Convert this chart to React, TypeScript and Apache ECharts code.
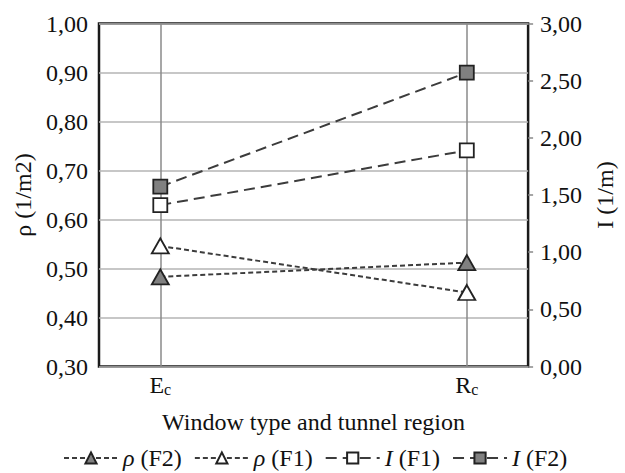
import React, { useEffect, useRef } from "react";
import * as echarts from "echarts";

const categories = ["E_c", "R_c"];
const categoryPositions = [0, 1];
const rhoF2 = [0.483, 0.512];
const rhoF1 = [0.546, 0.451];
const iF1 = [1.412, 1.89];
const iF2 = [1.573, 2.57];
const seriesNames = ["ρ (F2)", "ρ (F1)", "I (F1)", "I (F2)"];

const FONT = "'Liberation Serif', 'Times New Roman', Times, serif";
const FS = 24;
const fmt = (v: number) => v.toFixed(2).replace(".", ",");

export default function App() {
  const ref = useRef<HTMLDivElement>(null);
  useEffect(() => {
    if (!ref.current) return;
    const chart = echarts.init(ref.current, null, { renderer: "svg" });
    const pts = (arr: number[]) => arr.map((v, i) => [categoryPositions[i], v]);
    const lineColor = "#3c3c3c";
    const border = "#222";
    const fillGray = "#808080";
    const shortDash = { color: lineColor, width: 2, type: [5, 3] as any };
    const longDash = { color: lineColor, width: 2, type: [11, 6] as any };
    chart.setOption({
      animation: false,
      textStyle: { fontFamily: FONT },
      grid: {
        left: 99,
        right: 88,
        top: 23.5,
        bottom: 106.5,
        show: true,
        borderColor: "#1a1a1a",
        borderWidth: 2.5,
        backgroundColor: "transparent",
      },
      legend: {
        left: 58,
        top: 441,
        itemWidth: 54,
        itemHeight: 14,
        itemGap: 12,
        textStyle: {
          fontFamily: FONT,
          fontSize: FS,
          lineHeight: 24,
          color: "#111",
          rich: { it: { fontStyle: "italic", fontFamily: FONT, fontSize: FS, lineHeight: 24, color: "#111" } },
        },
        formatter: (name: string) => {
          const parts = name.split(" ");
          return "{it|" + parts[0] + "} " + parts.slice(1).join(" ");
        },
        data: seriesNames,
      },
      xAxis: {
        type: "value",
        min: -0.2,
        max: 1.2,
        name: "Window type and tunnel region",
        nameLocation: "middle",
        nameGap: 43,
        nameTextStyle: { fontFamily: FONT, fontSize: FS, color: "#111" },
        axisLine: { show: false },
        axisTick: { show: false },
        splitLine: { show: false },
        axisLabel: {
          customValues: categoryPositions,
          margin: 5,
          formatter: (v: number) => {
            const idx = categoryPositions.indexOf(Math.round(v));
            if (idx < 0) return "";
            const [m, s] = categories[idx].split("_");
            return "{m|" + m + "}{s|" + s + "}";
          },
          rich: {
            m: { fontFamily: FONT, fontSize: FS, color: "#111" },
            s: { fontFamily: FONT, fontSize: 16, color: "#111", padding: [10, 0, 0, 0] },
          },
        },
      },
      yAxis: [
        {
          type: "value",
          min: 0.3,
          max: 1.0,
          interval: 0.1,
          name: "ρ (1/m2)",
          nameLocation: "middle",
          nameGap: 62,
          nameTextStyle: { fontFamily: FONT, fontSize: FS, color: "#111" },
          axisLine: { show: false },
          axisTick: { show: false },
          axisLabel: { formatter: fmt, fontFamily: FONT, fontSize: FS, color: "#111", margin: 11 },
          splitLine: { show: true, lineStyle: { color: "#b5b5b5", width: 1.5 } },
        },
        {
          type: "value",
          min: 0,
          max: 3,
          interval: 0.5,
          position: "right",
          name: "I (1/m)",
          nameLocation: "middle",
          nameGap: 63,
          nameTextStyle: { fontFamily: FONT, fontSize: FS, color: "#111" },
          axisLine: { show: false },
          axisTick: { show: true, length: 5, inside: false, lineStyle: { color: "#888", width: 1.5 } },
          axisLabel: { formatter: fmt, fontFamily: FONT, fontSize: FS, color: "#111", margin: 12 },
          splitLine: { show: false },
        },
      ],
      series: [
        {
          name: seriesNames[0],
          type: "line",
          yAxisIndex: 0,
          data: pts(rhoF2),
          symbol: "triangle",
          symbolSize: [17, 15],
          lineStyle: shortDash,
          itemStyle: { color: fillGray, borderColor: border, borderWidth: 1.8 },
          z: 5,
          markLine: {
            silent: true,
            symbol: "none",
            label: { show: false },
            lineStyle: { color: "#8a8a8a", width: 1.5, type: "solid" },
            data: categoryPositions.map((p) => ({ xAxis: p })),
            z: 1,
          },
        },
        {
          name: seriesNames[1],
          type: "line",
          yAxisIndex: 0,
          data: pts(rhoF1),
          symbol: "triangle",
          symbolSize: [17, 15],
          lineStyle: shortDash,
          itemStyle: { color: "#fff", borderColor: border, borderWidth: 1.8 },
          z: 5,
        },
        {
          name: seriesNames[2],
          type: "line",
          yAxisIndex: 1,
          data: pts(iF1),
          symbol: "rect",
          symbolSize: 14,
          lineStyle: longDash,
          itemStyle: { color: "#fff", borderColor: border, borderWidth: 1.8 },
          z: 5,
        },
        {
          name: seriesNames[3],
          type: "line",
          yAxisIndex: 1,
          data: pts(iF2),
          symbol: "rect",
          symbolSize: 14,
          lineStyle: longDash,
          itemStyle: { color: fillGray, borderColor: border, borderWidth: 1.8 },
          z: 5,
        },
      ],
    });
    return () => chart.dispose();
  }, []);
  return <div ref={ref} style={{ width: 625, height: 473, position: "absolute", left: 0, top: 0 }} />;
}
